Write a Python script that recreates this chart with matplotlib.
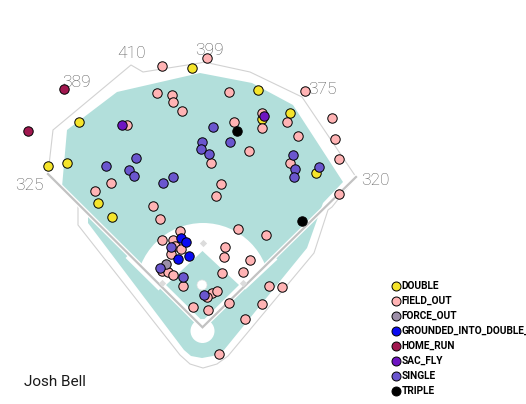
import numpy as np
import matplotlib.pyplot as plt
from matplotlib.patches import Polygon, Circle

# spray chart data, in chart pixel coordinates (x right, y down)
categories = ["DOUBLE", "FIELD_OUT", "FORCE_OUT", "GROUNDED_INTO_DOUBLE_PLAY",
              "HOME_RUN", "SAC_FLY", "SINGLE", "TRIPLE"]
colors = ["#F5E42B", "#FFB3B4", "#9D8FA8", "#0B0BF2",
          "#A1184F", "#6E14C2", "#6A56CE", "#000000"]

double_x = [192.3, 258.3, 78.7, 48.3, 66.7, 98.3, 112.0, 262.3, 289.7, 316.0]
double_y = [68.3, 90.3, 122.0, 166.0, 162.7, 203.3, 217.0, 119.3, 112.7, 172.7]

field_out_x = [162.0, 207.3, 157.3, 171.7, 172.7, 181.7, 126.7, 229.3, 305.0, 234.3,
               261.7, 262.3, 287.3, 298.3, 331.7, 335.3, 339.3, 339.3, 249.3, 210.7,
               290.0, 220.7, 215.7, 110.7, 95.0, 152.7, 159.7, 238.3, 266.3,
               180.0, 161.7, 172.7, 175.0, 180.7, 170.7, 161.7, 168.3, 172.7, 183.3,
               224.7, 224.0, 250.0, 221.7, 242.7, 269.3, 281.7, 211.7, 217.3, 207.3,
               192.7, 207.7, 229.0, 262.3, 244.7, 219.3]
field_out_y = [65.7, 58.0, 93.3, 94.7, 102.3, 111.0, 125.3, 92.0, 91.0, 122.3,
               112.7, 128.3, 121.7, 135.7, 118.3, 138.7, 159.0, 194.0, 151.3, 163.3,
               162.7, 183.7, 196.0, 182.7, 190.7, 206.3, 219.3, 229.0, 235.0,
               231.0, 240.0, 240.0, 245.7, 249.0, 254.3, 271.0, 271.7, 275.0, 285.5,
               246.7, 256.7, 260.0, 273.3, 272.0, 286.3, 286.7, 293.3, 290.7, 297.3,
               306.5, 309.5, 303.0, 303.5, 319.0, 354.3]

force_out_x = [166.0]
force_out_y = [264.3]

gidp_x = [180.7, 186.3, 178.3, 189.3]
gidp_y = [238.0, 241.7, 259.0, 255.7]

home_run_x = [64.3, 28.3]
home_run_y = [89.0, 130.7]

sac_fly_x = [121.7, 263.7]
sac_fly_y = [125.3, 116.0]

single_x = [106.0, 135.7, 129.3, 134.3, 162.7, 172.7, 213.3, 201.7, 200.7, 208.7,
            230.0, 292.7, 294.7, 294.0, 318.7, 170.7, 160.0, 183.3, 204.0]
single_y = [165.7, 158.3, 170.3, 176.0, 182.7, 176.7, 126.7, 141.7, 149.3, 154.0,
            142.0, 154.7, 169.0, 177.3, 167.0, 246.7, 267.7, 276.7, 295.0]

triple_x = [237.3, 301.5]
triple_y = [131.3, 221.3]

xs = [double_x, field_out_x, force_out_x, gidp_x, home_run_x, sac_fly_x, single_x, triple_x]
ys = [double_y, field_out_y, force_out_y, gidp_y, home_run_y, sac_fly_y, single_y, triple_y]

# field outline
fence = [(48, 174), (53, 130), (131, 65), (143, 72), (200, 63), (204, 62), (250, 72),
         (302, 97), (356, 177), (332, 207), (328, 210), (314, 253), (228, 356),
         (217, 364), (203, 368), (190, 364), (180, 355), (78, 225), (78, 204)]
grass = [(62, 187), (67, 130), (117, 92), (200, 73), (252, 83), (293, 105), (343, 182),
         (323, 203), (307, 248), (224, 350), (213, 356), (202, 358), (191, 356),
         (184, 350), (88, 223), (88, 213)]
infield = [(166, 285), (202.5, 251), (239, 285), (202.5, 321)]
home = (202.5, 327.3)
left_pole = (48, 174)
right_pole = (356, 177)
bases_x = [162, 202.5, 243]
bases_y = [283, 243, 283]

teal = "#B2DFDB"
narrow = ["Liberation Sans Narrow", "Roboto", "DejaVu Sans"]

fig = plt.figure(figsize=(5.26, 4.04), dpi=100)
ax = fig.add_axes([0, 0, 1, 1])
ax.set_xlim(0, 526)
ax.set_ylim(404, 0)
ax.axis("off")

ax.add_patch(Polygon(fence, closed=True, facecolor="none", edgecolor="#d2d2d2", lw=0.8, zorder=1))
ax.add_patch(Polygon(grass, closed=True, facecolor=teal, edgecolor="none", zorder=1))

wedge = Polygon([home, (-106.5, 20.7), (509.5, 26.7)], closed=True, transform=ax.transData,
                facecolor="none", edgecolor="none")
ax.add_patch(wedge)
dirt = Circle((203, 290), 67, facecolor="white", edgecolor="none", zorder=2)
ax.add_patch(dirt)
dirt.set_clip_path(wedge)

ax.add_patch(Polygon(infield, closed=True, facecolor=teal, edgecolor="none", zorder=3))
ax.add_patch(Circle((202.5, 331), 12, facecolor="white", edgecolor="none", zorder=3))
ax.add_patch(Circle((202, 285), 5, facecolor="white", edgecolor="#e2e2e2", lw=0.5, zorder=3))

# running strips outside the baselines
ax.plot([127, 160], [256.5, 289], color="white", lw=3, solid_capstyle="butt", zorder=3)
ax.plot([244, 276], [288, 258], color="white", lw=3, solid_capstyle="butt", zorder=3)

lx = [left_pole[0], home[0], right_pole[0]]
ly = [left_pole[1], home[1], right_pole[1]]
ax.plot(lx, ly, color="white", lw=3.5, zorder=4, solid_joinstyle="miter")
ax.plot(lx, ly, color="#c2c2c2", lw=1.6, zorder=4, solid_joinstyle="miter")
ax.scatter(bases_x, bases_y, marker="D", s=14, color="#dcdcdc", lw=0, zorder=4)

for cat, col, x, y in zip(categories, colors, xs, ys):
    ax.scatter(x, y, s=46, color=col, edgecolor="black", lw=0.7, zorder=5)

# fence distances
dist_labels = ["325", "389", "410", "399", "375", "320"]
dist_x = [29.7, 76.3, 131.0, 209.7, 322.8, 375.5]
dist_y = [186.0, 82.5, 54.0, 50.7, 89.2, 180.3]
for t, x, y in zip(dist_labels, dist_x, dist_y):
    ax.text(x, y, t, ha="center", va="center", fontsize=12.5, color="#5a5a5a",
            fontweight="light", family=narrow)

# legend
for i, (cat, col) in enumerate(zip(categories, colors)):
    yy = 286 + i * 15.0
    ax.scatter([396], [yy], s=42, color=col, edgecolor="black", lw=0.7, zorder=5, clip_on=False)
    ax.text(401.5, yy, cat, ha="left", va="center", fontsize=7.3, fontweight="bold",
            family=narrow, color="black")

ax.text(24.3, 385.7, "Josh Bell", ha="left", va="baseline", fontsize=11, color="#1a1a1a",
        family=narrow)

fig.savefig("out.png", dpi=100)
